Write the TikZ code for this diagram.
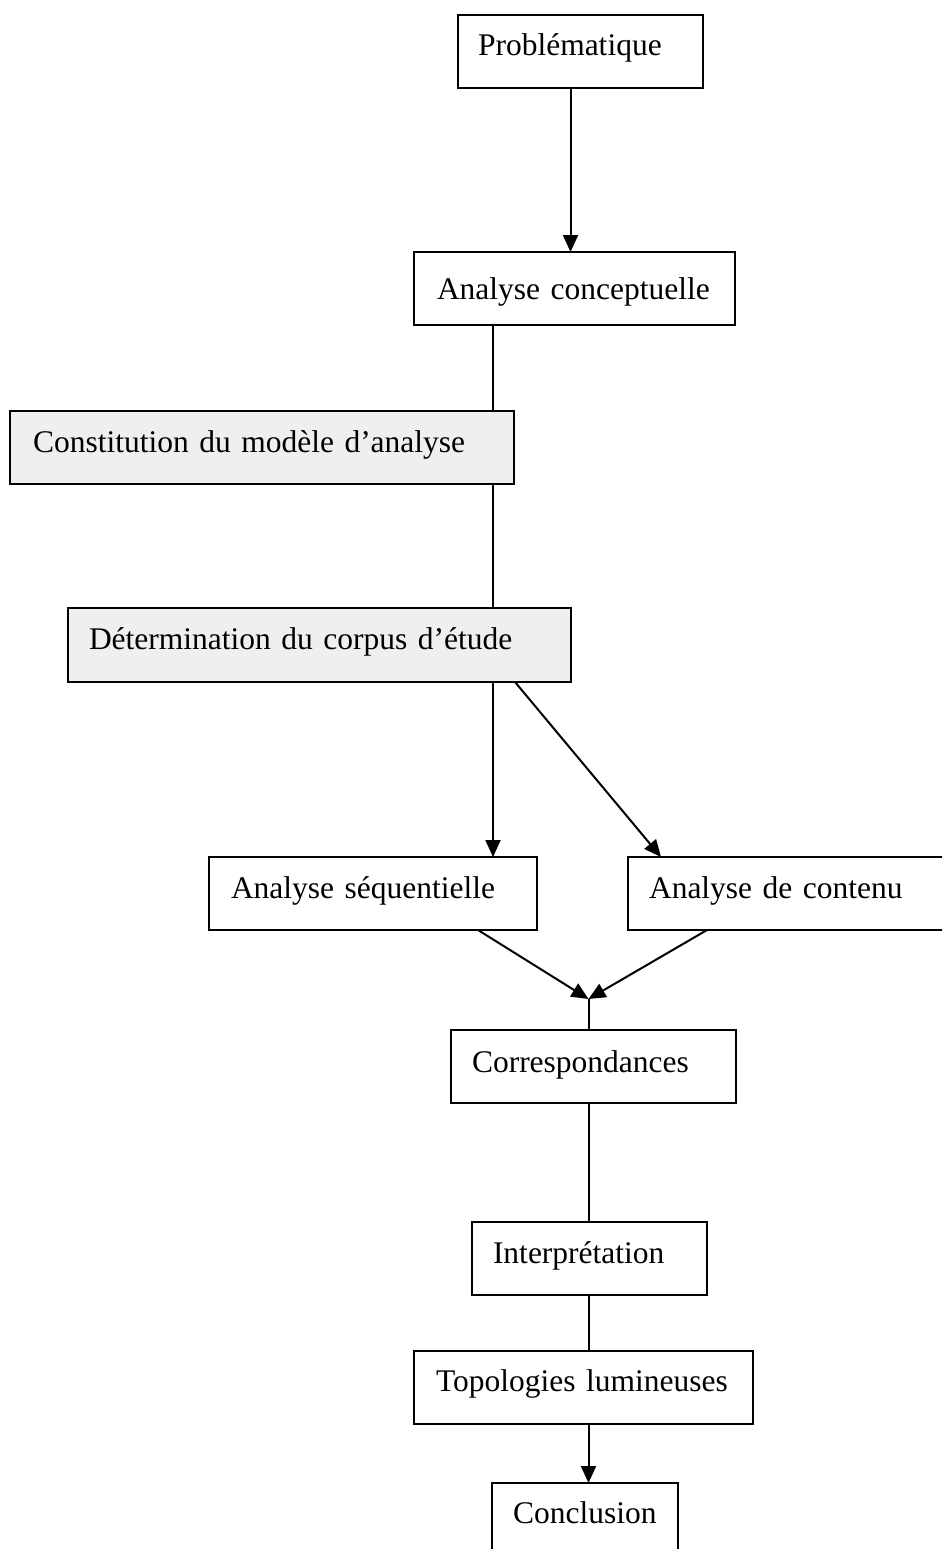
\documentclass[tikz,border=0pt]{standalone}
\usepackage{fontspec}
\setmainfont{Liberation Serif}
\usetikzlibrary{arrows.meta,calc,positioning}
\definecolor{gris}{RGB}{239,239,239}

\begin{document}
\begin{tikzpicture}[x=1pt,y=-1pt,
	etape/.style={draw, rectangle, line width=2pt, anchor=north west, outer sep=0pt,
		inner xsep=21pt, inner ysep=0pt, align=left, text height=41pt, text depth=32pt,
		font=\fontsize{31.5}{38}\selectfont},
	grise/.style={etape, fill=gris},
	fleche/.style={line width=2pt, -{Triangle[length=17pt,width=15pt]}},
	trait/.style={line width=2pt}]
		\useasboundingbox (0,0) rectangle (942,1549);
		\clip (0,0) rectangle (942,1549);
		% les etapes
		\node[etape, text width=205pt, inner xsep=20pt] (prob) at (458,15) {Problématique};
		\node[etape, text width=275pt, inner xsep=23pt, text height=47pt, text depth=26pt] (concep) at (414,252) {Analyse conceptuelle};
		\node[grise, text width=458pt, inner xsep=23pt] (modele) at (10,411) {Constitution du modèle d’analyse};
		\node[grise, text width=461pt, text depth=33pt] (corpus) at (68,608) {Détermination du corpus d’étude};
		\node[etape, text width=284pt, inner xsep=22pt] (sequ) at (209,857) {Analyse séquentielle};
		\node[etape, text width=288pt] (contenu) at (628,857) {Analyse de contenu};
		\node[etape, text width=243pt, text height=42pt, text depth=31pt] (corresp) at (451,1030) {Correspondances};
		\node[etape, text width=193pt] (interp) at (472,1222) {Interprétation};
		\node[etape, text width=295pt, inner xsep=22pt, text height=40pt, text depth=33pt] (topo) at (414,1351) {Topologies lumineuses};
		\node[etape, text width=144pt, text height=40pt, text depth=40pt] (concl) at (492,1483) {Conclusion};
		\coordinate (jonc) at ([xshift=-5pt,yshift=31pt]corresp.north);
		% liaisons
		\draw[fleche] ([xshift=-10pt]prob.south) -- ([xshift=-10pt]prob.south |- concep.north);
		\draw[trait] ([xshift=79pt]concep.south west) -- ([xshift=79pt]concep.south west |- modele.north);
		\draw[trait] ([xshift=79pt]concep.south west |- modele.south) -- ([xshift=79pt]concep.south west |- corpus.north);
		\draw[fleche] ([xshift=79pt]concep.south west |- corpus.south) -- ([xshift=79pt]concep.south west |- sequ.north);
		\draw[fleche] ([xshift=-56pt]corpus.south east) -- ([xshift=33pt]contenu.north west);
		\draw[fleche] ([xshift=-59pt]sequ.south east) -- (jonc);
		\draw[fleche] ([xshift=79pt]contenu.south west) -- (jonc);
		\draw[trait] (jonc) -- (jonc |- corresp.north);
		\draw[trait] (jonc |- corresp.south) -- (jonc |- interp.north);
		\draw[trait] (jonc |- interp.south) -- (jonc |- topo.north);
		\draw[fleche] (jonc |- topo.south) -- (jonc |- concl.north);
\end{tikzpicture}
\end{document}
